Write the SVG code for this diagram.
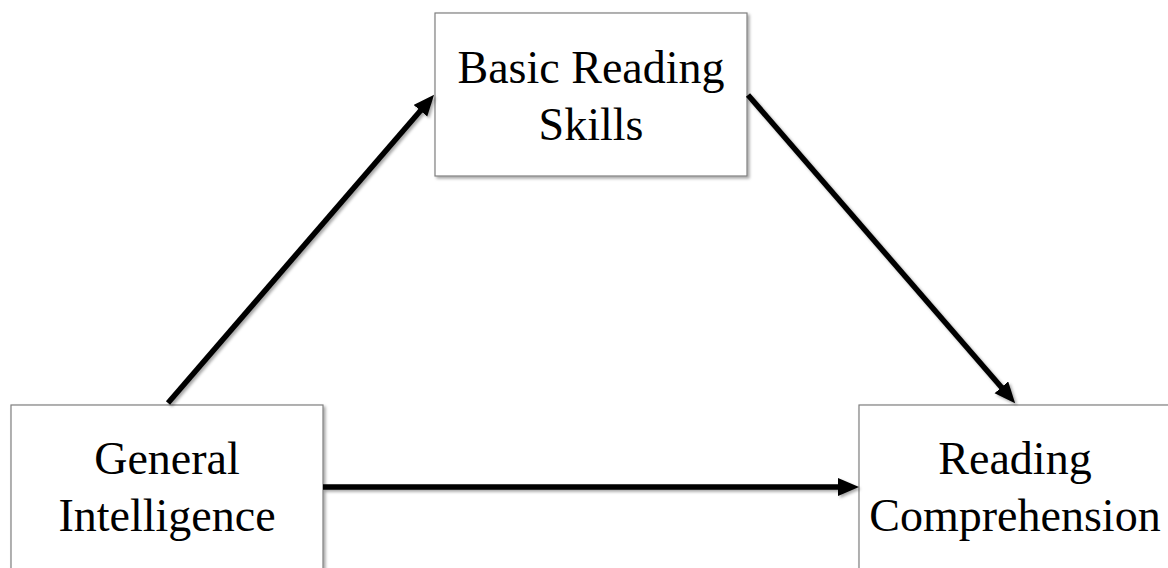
<svg xmlns="http://www.w3.org/2000/svg" width="1168" height="568" viewBox="0 0 1168 568">
<style>
.box{fill:#ffffff;stroke:#7f7f7f;stroke-width:1.2;filter:url(#sh)}
.lbl{font-family:"Liberation Serif","Times New Roman",serif;font-size:46px;fill:#000;text-anchor:middle}
.con{stroke:#000;stroke-width:5.5;fill:none;marker-end:url(#ah);filter:url(#sh)}
</style>
<defs>
<filter id="sh" filterUnits="userSpaceOnUse" x="0" y="0" width="1168" height="568">
<feDropShadow dx="2" dy="2" stdDeviation="1.5" flood-color="#000" flood-opacity="0.35"/>
</filter>
<marker id="ah" markerUnits="userSpaceOnUse" markerWidth="24" markerHeight="20" refX="4" refY="9" orient="auto" viewBox="0 0 24 20">
<path d="M0,0 L21,9 L0,18 z" fill="#000"/>
</marker>
</defs>
<rect width="1168" height="568" fill="#ffffff"/>
<g id="node-basic">
<rect class="box" x="435" y="13" width="312" height="163"/>
<text class="lbl" x="591" y="83">Basic Reading</text>
<text class="lbl" x="591" y="140">Skills</text>
</g>
<g id="node-general">
<rect class="box" x="11" y="405" width="312" height="200"/>
<text class="lbl" x="167" y="474">General</text>
<text class="lbl" x="167" y="531">Intelligence</text>
</g>
<g id="node-reading">
<rect class="box" x="859" y="405" width="320" height="200"/>
<text class="lbl" x="1015" y="474">Reading</text>
<text class="lbl" x="1015" y="531">Comprehension</text>
</g>
<g id="connectors">
<line class="con" x1="168" y1="403" x2="423" y2="107.7"/>
<line class="con" x1="748" y1="95" x2="1004" y2="390.3"/>
<line class="con" x1="323" y1="487" x2="842" y2="487"/>
</g>
</svg>
